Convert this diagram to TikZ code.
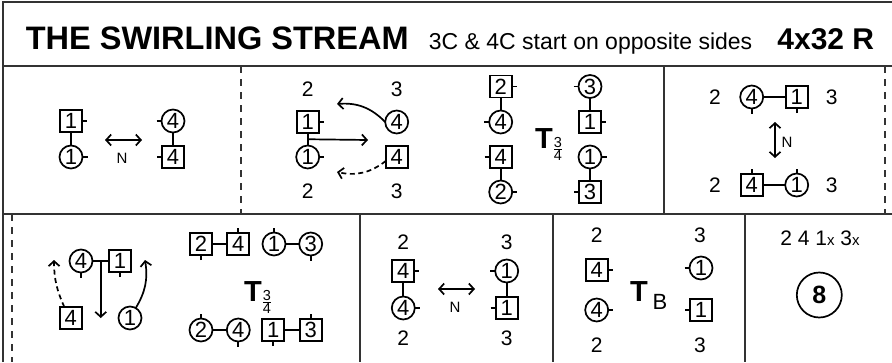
\documentclass[tikz,border=0pt]{standalone}
\usepackage{fontspec}
\setmainfont{Liberation Sans}
\usetikzlibrary{arrows.meta}

\begin{document}
\begin{tikzpicture}[x=1pt,y=-1pt,line width=1.7pt,
  >={Straight Barb[length=5pt,width=11pt]},
  boxline/.style={line width=2pt,black!80},
  cutline/.style={line width=1.8pt,black!80,dash pattern=on 7pt off 6pt},
  movedash/.style={dash pattern=on 5pt off 3.5pt},
  man/.style={draw,rectangle,minimum size=22pt,inner sep=0pt,outer sep=0pt,font=\fontsize{22}{22}\selectfont},
  lady/.style={draw,circle,minimum size=23pt,inner sep=0pt,outer sep=0pt,font=\fontsize{22}{22}\selectfont},
  tickbit/.style={inner sep=0pt,outer sep=0pt},
  tickR/.style={label={[tickbit]east:\rule{5pt}{1.7pt}}},
  tickL/.style={label={[tickbit]west:\rule{5pt}{1.7pt}}},
  tickU/.style={label={[tickbit]north:\rule{1.7pt}{5pt}}},
  tickD/.style={label={[tickbit]south:\rule{1.7pt}{5pt}}},
  wall/.style={inner sep=0pt,font=\fontsize{21}{21}\selectfont},
  nfont/.style={inner sep=0pt,font=\fontsize{15}{15}\selectfont},
  tnode/.style={inner sep=0pt,font=\fontsize{29}{29}\bfseries},
  frac/.style={inner sep=0pt,font=\fontsize{14.5}{14.5}\selectfont}]
\useasboundingbox (0,0) rectangle (892,362);

\draw[boxline] (3,362) -- (3,2) -- (892,2);
\draw[boxline] (3,66) -- (892,66);
\draw[boxline] (3,214) -- (892,214);
\foreach \x in {664} \draw[boxline] (\x,66) -- (\x,214);
\foreach \x in {360,553,745} \draw[boxline] (\x,214) -- (\x,362);
\foreach \x in {241,885} \draw[cutline] (\x,66) -- (\x,214);
\draw[cutline] (12,214) -- (12,362);

\node[anchor=base west,inner sep=0pt,font=\fontsize{32.5}{32.5}\bfseries] (title) at (25,49) {THE SWIRLING STREAM};
\node[anchor=base west,inner sep=0pt,font=\fontsize{23}{23}\selectfont] (sub) at (428,49) {3C \& 4C start on opposite sides};
\node[anchor=base east,inner sep=0pt,font=\fontsize{30}{30}\bfseries] (len) at (875,49) {4x32 R};

\foreach \px/\py/\t [count=\i] in {307.7/89/2,396.7/89/3,307.7/191/2,396.7/191/3,
  715/97/2,831.7/97/3,715/185/2,831.7/185/3,
  403.3/242/2,506.7/242/3,403.3/338/2,506.7/338/3,
  596.7/235/2,700/235/3,596.7/345/2,700/345/3}
  \node[wall] (W-\i) at (\px,\py) {\t};

\node[man,tickR] (A1) at (71,121) {1};
\node[lady,tickR] (A2) at (71,157) {1};
\node[lady,tickL] (A3) at (173,121) {4};
\node[man,tickL] (A4) at (173,157) {4};
\draw (A1) -- (A2);
\draw (A3) -- (A4);
\coordinate (A5) at (105,140);
\coordinate (A6) at (142,140);
\draw[<->] (A5) -- (A6);
\node[nfont] (A7) at (122,158) {N};

\node[man,tickR] (B1) at (307.7,122) {1};
\node[lady,tickR] (B2) at (307.7,157) {1};
\node[lady] (B3) at (396.7,122) {4};
\node[man] (B4) at (396.7,157) {4};
\draw (B1) -- coordinate (B5) (B2);
\coordinate (B6) at (368,140);
\draw[->] (B5) -- (B6);
\coordinate (B7) at (337,104);
\draw[->] (B3.west) to[bend right=25] (B7);
\coordinate (B8) at (337,172);
\draw[->,movedash] (B4.200) to[bend left=25] (B8);

\node[man,tickR] (B9) at (500.7,86.5) {2};
\node[lady,tickL] (B10) at (500.7,122) {4};
\node[man,tickL] (B11) at (500.7,157) {4};
\node[lady,tickR] (B12) at (500.7,192) {2};
\draw (B9) -- (B10);
\draw (B11) -- (B12);
\node[tnode] (B13) at (544,139) {T};
\node[frac] (B14) at (558,149) {$\hbox{3}\above0.9pt\hbox{4}$};
\node[lady,tickL] (B15) at (590,86.5) {3};
\node[man,tickR] (B16) at (590,122) {1};
\node[lady,tickR] (B17) at (590,157) {1};
\node[man,tickL] (B18) at (590,192) {3};
\draw (B15) -- (B16);
\draw (B17) -- (B18);

\node[lady,tickD] (C1) at (751.7,97) {4};
\node[man,tickD] (C2) at (796.7,97) {1};
\draw (C1) -- (C2);
\coordinate (C3) at (775,122);
\coordinate (C4) at (775,158);
\draw[<->] (C3) -- (C4);
\node[nfont] (C5) at (787,142) {N};
\node[man,tickU] (C6) at (751.7,185) {4};
\node[lady,tickU] (C7) at (796.7,185) {1};
\draw (C6) -- (C7);

\node[lady,tickD] (D1) at (81,261) {4};
\node[man,tickD] (D2) at (120,261) {1};
\draw (D1) -- coordinate (D3) (D2);
\path (D3) ++(0,57) coordinate (D4);
\draw[->] (D3) -- (D4);
\node[man] (D5) at (70.7,318) {4};
\node[lady] (D6) at (130,318) {1};
\coordinate (D7) at (54,260);
\coordinate (D8) at (145,260);
\draw[->,movedash] (D5.120) to[bend left=12] (D7);
\draw[->] (D6.60) to[bend right=20] (D8);
\node[man,tickD] (D9) at (201,244) {2};
\node[man,tickU] (D10) at (238.3,244) {4};
\node[lady,tickU] (D11) at (274,244) {1};
\node[lady,tickD] (D12) at (310.7,244) {3};
\draw (D9) -- (D10);
\draw (D11) -- (D12);
\node[tnode] (D13) at (253,292) {T};
\node[frac] (D14) at (267,302) {$\hbox{3}\above0.9pt\hbox{4}$};
\node[lady,tickU] (D15) at (201,330) {2};
\node[lady,tickD] (D16) at (238.3,330) {4};
\node[man,tickD] (D17) at (273.3,330) {1};
\node[man,tickU] (D18) at (310.7,330) {3};
\draw (D15) -- (D16);
\draw (D17) -- (D18);

\node[man,tickR] (E1) at (403.3,271) {4};
\node[lady,tickR] (E2) at (403.3,308) {4};
\node[lady,tickL] (E3) at (506.7,271) {1};
\node[man,tickL] (E4) at (506.7,308) {1};
\draw (E1) -- (E2);
\draw (E3) -- (E4);
\coordinate (E5) at (438,289);
\coordinate (E6) at (475,289);
\draw[<->] (E5) -- (E6);
\node[nfont] (E7) at (455,307) {N};

\node[man,tickR] (F1) at (596.7,270) {4};
\node[lady,tickR] (F2) at (596.7,310) {4};
\node[lady,tickL] (F3) at (701,268) {1};
\node[man,tickL] (F4) at (701,310) {1};
\node[tnode] (F5) at (639,292) {T};
\node[inner sep=0pt,font=\fontsize{22}{22}\selectfont] (F6) at (660,302) {B};

\node[wall] (G1) at (820,238) {2 4 1{\fontsize{15}{15}\selectfont x} 3{\fontsize{15}{15}\selectfont x}};
\node[draw,circle,minimum size=45pt,inner sep=0pt,font=\fontsize{25}{25}\bfseries] (G2) at (819.3,295) {8};
\end{tikzpicture}
\end{document}
